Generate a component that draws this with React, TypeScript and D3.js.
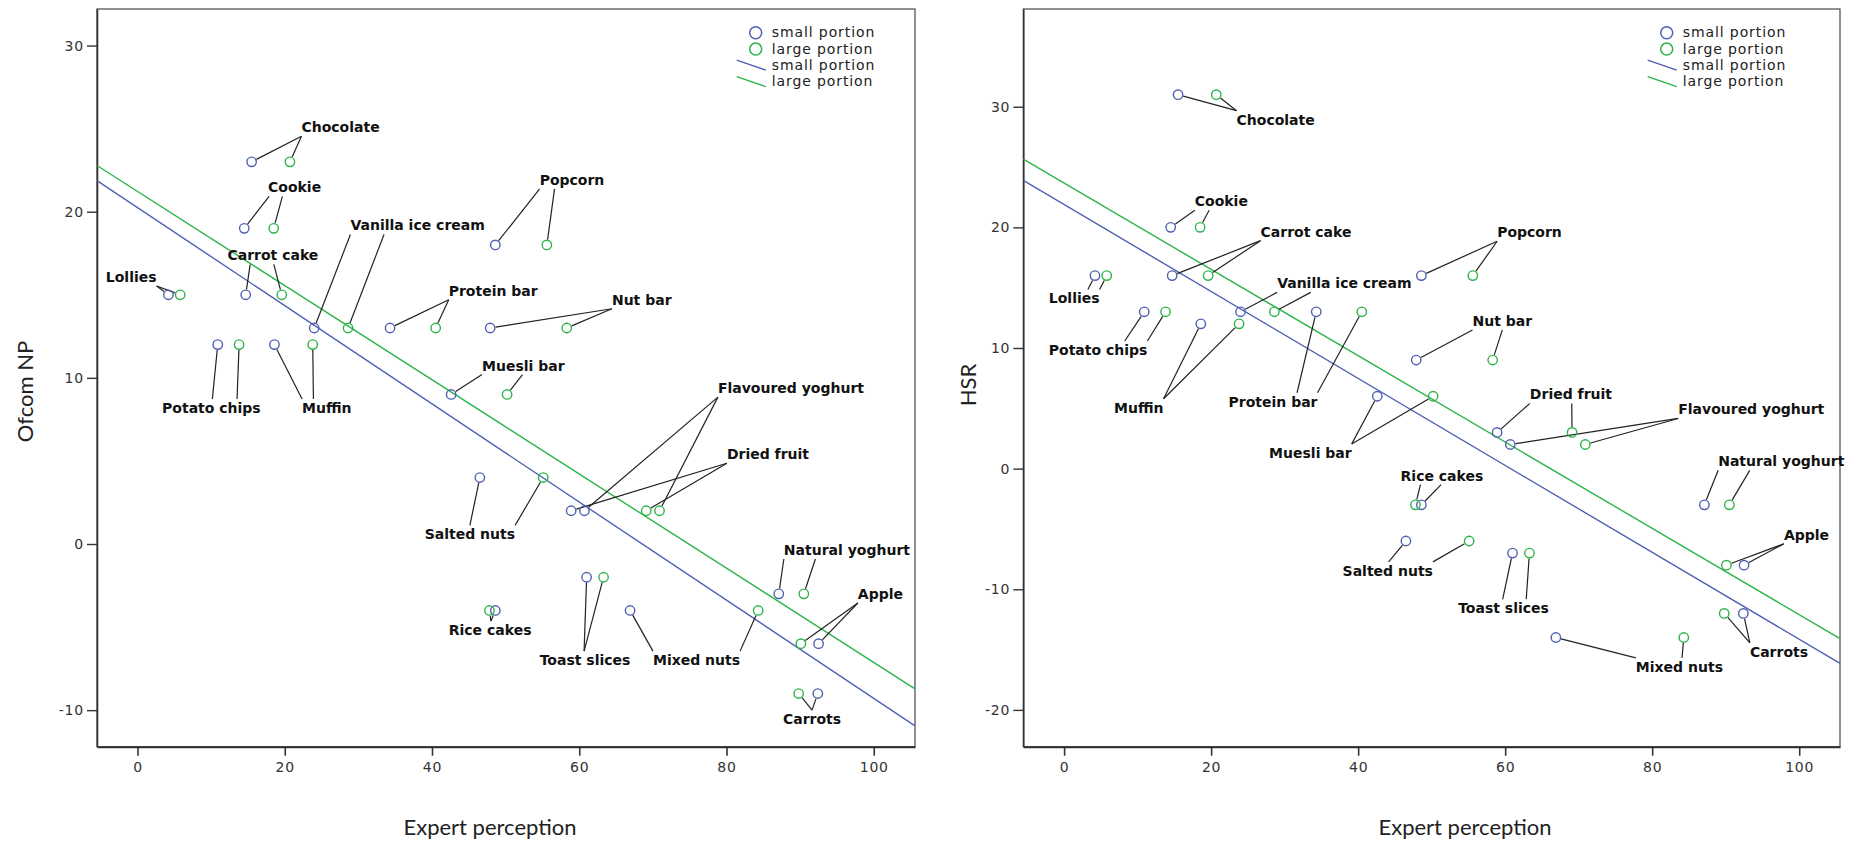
import { useEffect, useRef } from 'react';
import * as d3 from 'd3';

// foods, in the same order for every value array below
const foods = [
  'Lollies', 'Potato chips', 'Cookie', 'Carrot cake', 'Chocolate', 'Muffin',
  'Vanilla ice cream', 'Protein bar', 'Muesli bar', 'Salted nuts', 'Nut bar',
  'Rice cakes', 'Popcorn', 'Dried fruit', 'Flavoured yoghurt', 'Toast slices',
  'Mixed nuts', 'Natural yoghurt', 'Carrots', 'Apple',
];

// expert perception score
const expertSmall = [4.2, 10.9, 14.5, 14.7, 15.5, 18.6, 24.0, 34.3, 42.6, 46.5, 47.9, 48.6, 48.6, 58.9, 60.7, 61.0, 66.9, 87.1, 92.4, 92.5];
const expertLarge = [5.8, 13.8, 18.5, 19.6, 20.7, 23.8, 28.6, 40.5, 50.2, 55.1, 58.3, 47.8, 55.6, 69.1, 70.9, 63.3, 84.3, 90.5, 89.8, 90.1];

// Ofcom NP score
const ofcomSmall = [15, 12, 19, 15, 23, 12, 13, 13, 9, 4, 13, -4, 18, 2, 2, -2, -4, -3, -9, -6];
const ofcomLarge = [15, 12, 19, 15, 23, 12, 13, 13, 9, 4, 13, -4, 18, 2, 2, -2, -4, -3, -9, -6];

// HSR score
const hsrSmall = [16, 13, 20, 16, 31, 12, 13, 13, 6, -6, 9, -3, 16, 3, 2, -7, -14, -3, -12, -8];
const hsrLarge = [16, 13, 20, 16, 31, 12, 13, 13, 6, -6, 9, -3, 16, 3, 2, -7, -14, -3, -12, -8];

const ofcomTicks = [-10, 0, 10, 20, 30];
const hsrTicks = [-20, -10, 0, 10, 20, 30];
const xTicks = [0, 20, 40, 60, 80, 100];

const legendItems = ['small portion', 'large portion', 'small portion', 'large portion'];

// label placement (data units: text start, baseline), leader edge and attach fraction [small, large]
const ofcomLabels = [
  { food: 'Chocolate', x: 22.27, y: 24.78, edge: 'b', at: [0, 0] },
  { food: 'Cookie', x: 17.73, y: 21.16, edge: 'b', at: [0.02, 0.27] },
  { food: 'Carrot cake', x: 12.22, y: 17.07, edge: 'b', at: [0.25, 0.51] },
  { food: 'Lollies', x: -4.3, y: 15.77, edge: 'b', at: [1, 1] },
  { food: 'Vanilla ice cream', x: 28.92, y: 18.87, edge: 'b', at: [0, 0.25] },
  { food: 'Protein bar', x: 42.27, y: 14.94, edge: 'b', at: [0, 0] },
  { food: 'Potato chips', x: 3.34, y: 7.89, edge: 't', at: [0.51, 0.76] },
  { food: 'Muffin', x: 22.35, y: 7.89, edge: 't', at: [0, 0.23] },
  { food: 'Muesli bar', x: 46.79, y: 10.44, edge: 'b', at: [0, 0.49] },
  { food: 'Popcorn', x: 54.62, y: 21.61, edge: 'b', at: [0, 0.23] },
  { food: 'Nut bar', x: 64.44, y: 14.4, edge: 'b', at: [0, 0] },
  { food: 'Flavoured yoghurt', x: 78.83, y: 9.08, edge: 'b', at: [0, 0] },
  { food: 'Dried fruit', x: 80.05, y: 5.1, edge: 'b', at: [0, 0] },
  { food: 'Salted nuts', x: 39.01, y: 0.28, edge: 't', at: [0.5, 1] },
  { food: 'Rice cakes', x: 42.27, y: -5.48, edge: 't', at: [0.51, 0.51] },
  { food: 'Toast slices', x: 54.62, y: -7.29, edge: 't', at: [0.49, 0.49] },
  { food: 'Mixed nuts', x: 70.01, y: -7.29, edge: 't', at: [0, 1] },
  { food: 'Natural yoghurt', x: 87.79, y: -0.66, edge: 'b', at: [0, 0.25] },
  { food: 'Apple', x: 97.84, y: -3.31, edge: 'b', at: [0, 0] },
  { food: 'Carrots', x: 87.66, y: -10.84, edge: 't', at: [0.5, 0.5] },
];

const hsrLabels = [
  { food: 'Chocolate', x: 23.46, y: 28.51, edge: 't', at: [0, 0] },
  { food: 'Cookie', x: 17.78, y: 21.75, edge: 'b', at: [0, 0.27] },
  { food: 'Carrot cake', x: 26.72, y: 19.23, edge: 'b', at: [0, 0] },
  { food: 'Lollies', x: -2.08, y: 13.69, edge: 't', at: [0.77, 1] },
  { food: 'Vanilla ice cream', x: 28.98, y: 14.94, edge: 'b', at: [0, 0.25] },
  { food: 'Potato chips', x: -2.08, y: 9.42, edge: 't', at: [0.77, 1] },
  { food: 'Muffin', x: 6.8, y: 4.63, edge: 't', at: [1, 1] },
  { food: 'Protein bar', x: 22.37, y: 5.13, edge: 't', at: [0.77, 1] },
  { food: 'Muesli bar', x: 27.89, y: 0.89, edge: 't', at: [1, 1] },
  { food: 'Popcorn', x: 58.91, y: 19.18, edge: 'b', at: [0, 0] },
  { food: 'Nut bar', x: 55.56, y: 11.83, edge: 'b', at: [0, 0.5] },
  { food: 'Dried fruit', x: 63.36, y: 5.74, edge: 'b', at: [0, 0.51] },
  { food: 'Flavoured yoghurt', x: 83.54, y: 4.49, edge: 'b', at: [0, 0] },
  { food: 'Rice cakes', x: 45.77, y: -1.0, edge: 'b', at: [0.49, 0.24] },
  { food: 'Salted nuts', x: 37.88, y: -8.89, edge: 't', at: [0.51, 1] },
  { food: 'Toast slices', x: 53.61, y: -11.99, edge: 't', at: [0.49, 0.75] },
  { food: 'Natural yoghurt', x: 88.98, y: 0.19, edge: 'b', at: [0, 0.25] },
  { food: 'Apple', x: 97.92, y: -5.9, edge: 'b', at: [0, 0] },
  { food: 'Carrots', x: 93.29, y: -15.6, edge: 't', at: [0, 0] },
  { food: 'Mixed nuts', x: 77.78, y: -16.85, edge: 't', at: [0, 0.53] },
];

const BLUE = '#4f60b2';
const GREEN = '#2db449';
const TOP = 9;
const BOTTOM = 746.7;

// least squares fit, as the chart's fit lines
function fit(xs: number[], ys: number[]) {
  const mx = d3.mean(xs)!;
  const my = d3.mean(ys)!;
  const sxy = d3.sum(xs, (x, i) => (x - mx) * (ys[i] - my));
  const sxx = d3.sum(xs, (x) => (x - mx) ** 2);
  const b = sxy / sxx;
  return { a: my - b * mx, b };
}

function drawPanel(svg: any, cfg: any) {
  const x = d3.scaleLinear().domain(cfg.xDomain).range([cfg.left, cfg.right]);
  const y = d3.scaleLinear().domain(cfg.yDomain).range([BOTTOM, TOP]);
  const g = svg.append('g');

  g.append('clipPath').attr('id', cfg.id + '-clip')
    .append('rect')
    .attr('x', cfg.left).attr('y', TOP)
    .attr('width', cfg.right - cfg.left).attr('height', BOTTOM - TOP);

  // frame
  g.append('rect')
    .attr('x', cfg.left).attr('y', TOP)
    .attr('width', cfg.right - cfg.left).attr('height', BOTTOM - TOP)
    .attr('fill', 'white').attr('stroke', '#555').attr('stroke-width', 1.3);

  // y axis
  const yAxis = g.append('g').attr('transform', `translate(${cfg.left},0)`)
    .call(d3.axisLeft(y).tickValues(cfg.yTicks).tickSize(10).tickSizeOuter(0).tickPadding(3));
  yAxis.select('.domain').attr('stroke', '#333').attr('stroke-width', 1.6);
  yAxis.selectAll('.tick line').attr('stroke', '#333').attr('stroke-width', 1.4);
  yAxis.selectAll('.tick text')
    .attr('font-family', 'DejaVu Sans').attr('font-size', 14).attr('fill', '#333')
    .style('letter-spacing', '0.8px').text((d: number) => (d < 0 ? '-' + Math.abs(d) : d));

  // x axis
  const xAxis = g.append('g').attr('transform', `translate(0,${BOTTOM})`)
    .call(d3.axisBottom(x).tickValues(xTicks).tickSize(9).tickSizeOuter(0).tickPadding(6));
  xAxis.select('.domain').attr('stroke', '#333').attr('stroke-width', 2);
  xAxis.selectAll('.tick line').attr('stroke', '#333').attr('stroke-width', 1.6);
  xAxis.selectAll('.tick text')
    .attr('font-family', 'DejaVu Sans').attr('font-size', 14).attr('fill', '#333')
    .style('letter-spacing', '0.8px');

  // axis titles
  g.append('text')
    .attr('x', cfg.xTitleX).attr('y', 835)
    .attr('text-anchor', 'middle')
    .attr('font-family', 'Lato').attr('font-size', 22).attr('fill', '#222')
    .text('Expert perception');
  g.append('text')
    .attr('transform', `translate(${cfg.yTitleX},${cfg.yTitleY}) rotate(-90)`)
    .attr('text-anchor', 'middle')
    .attr('font-family', 'Lato').attr('font-size', 22).attr('fill', '#222')
    .text(cfg.yTitle);

  const plot = g.append('g').attr('clip-path', `url(#${cfg.id}-clip)`);

  // fit lines
  const series = [
    { xs: expertSmall, ys: cfg.small, color: BLUE },
    { xs: expertLarge, ys: cfg.large, color: GREEN },
  ];
  series.forEach((s) => {
    const f = fit(s.xs, s.ys);
    plot.append('path')
      .attr('d', d3.line<number>().x((d) => x(d)).y((d) => y(f.a + f.b * d))(cfg.xDomain))
      .attr('fill', 'none').attr('stroke', s.color).attr('stroke-width', 1.4);
  });

  // labels and leader lines
  const r = 4.7;
  const leaderG = g.append('g');
  const labelG = g.append('g');
  cfg.labels.forEach((lab: any) => {
    const i = foods.indexOf(lab.food);
    const lx = x(lab.x);
    const ly = y(lab.y);
    const t = labelG.append('text')
      .attr('x', lx).attr('y', ly)
      .attr('font-family', 'DejaVu Sans').attr('font-weight', 'bold')
      .attr('font-size', 14).attr('fill', '#111')
      .text(lab.food);
    const w = (t.node() as SVGTextElement).getComputedTextLength();
    const ay = lab.edge === 'b' ? ly + 4 : ly - 14;
    [
      { px: x(expertSmall[i]), py: y(cfg.small[i]), f: lab.at[0] },
      { px: x(expertLarge[i]), py: y(cfg.large[i]), f: lab.at[1] },
    ].forEach((p) => {
      const ax = lx + p.f * w;
      const dx = ax - p.px;
      const dy = ay - p.py;
      const d = Math.hypot(dx, dy);
      if (d <= r + 1) return;
      const k = (r + 0.7) / d;
      leaderG.append('line')
        .attr('x1', p.px + dx * k).attr('y1', p.py + dy * k)
        .attr('x2', ax).attr('y2', ay)
        .attr('stroke', '#222').attr('stroke-width', 1.2);
    });
  });

  // points
  const pointG = g.append('g');
  series.forEach((s) => {
    pointG.selectAll(null)
      .data(foods.map((_, i) => [s.xs[i], s.ys[i]]))
      .enter()
      .append('circle')
      .attr('cx', (d: number[]) => x(d[0]))
      .attr('cy', (d: number[]) => y(d[1]))
      .attr('r', r)
      .attr('fill', 'none').attr('stroke', s.color).attr('stroke-width', 1.4);
  });
  labelG.raise();

  // legend
  const leg = g.append('g').attr('transform', `translate(${cfg.legendX},0)`);
  const rows = [37.3, 53.6, 69.6, 86.2];
  legendItems.forEach((txt, k) => {
    const color = k % 2 === 0 ? BLUE : GREEN;
    if (k < 2) {
      leg.append('circle').attr('cx', -16).attr('cy', rows[k] - 4.5).attr('r', 6)
        .attr('fill', 'none').attr('stroke', color).attr('stroke-width', 1.5);
    } else {
      leg.append('line')
        .attr('x1', -35).attr('y1', rows[k] - 9.5).attr('x2', -6).attr('y2', rows[k] + 0.5)
        .attr('stroke', color).attr('stroke-width', 1.4);
    }
    leg.append('text').attr('x', 0).attr('y', rows[k])
      .attr('font-family', 'DejaVu Sans').attr('font-size', 14).attr('fill', '#222')
      .style('letter-spacing', '0.9px')
      .text(txt);
  });
}

export default function App() {
  const ref = useRef<SVGSVGElement>(null);

  useEffect(() => {
    const svg = d3.select(ref.current);
    svg.selectAll('*').remove();

    drawPanel(svg, {
      id: 'ofcom', left: 97, right: 915,
      xDomain: [-5.5, 105.6], yDomain: [-12.2, 32.2], yTicks: ofcomTicks,
      small: ofcomSmall, large: ofcomLarge, labels: ofcomLabels,
      yTitle: 'Ofcom NP', yTitleX: 33, yTitleY: 391.5, xTitleX: 490, legendX: 771.7,
    });
    drawPanel(svg, {
      id: 'hsr', left: 1023.3, right: 1840,
      xDomain: [-5.55, 105.55], yDomain: [-23.05, 38.1], yTicks: hsrTicks,
      small: hsrSmall, large: hsrLarge, labels: hsrLabels,
      yTitle: 'HSR', yTitleX: 976, yTitleY: 385, xTitleX: 1465, legendX: 1682.7,
    });
  }, []);

  return (
    <svg
      ref={ref}
      width={1854}
      height={842}
      style={{ position: 'absolute', left: 0, top: 0, background: 'white' }}
    />
  );
}
